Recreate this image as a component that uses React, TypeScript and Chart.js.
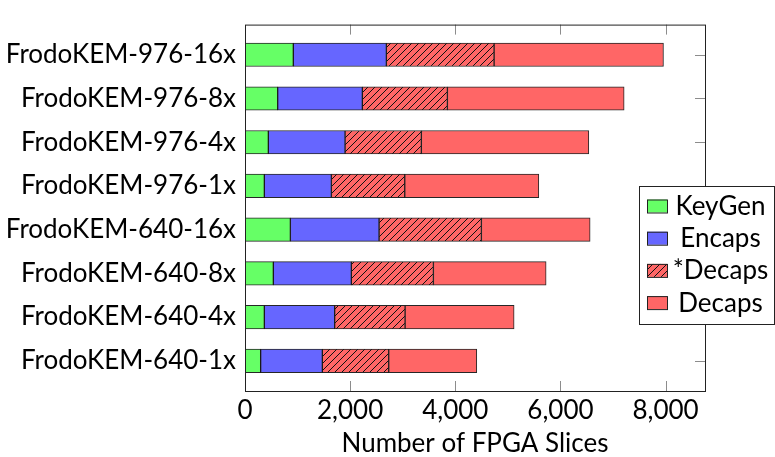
import React, { useEffect, useRef } from "react";
import Chart from "chart.js/auto";

const categories = [
  "FrodoKEM-976-16x",
  "FrodoKEM-976-8x",
  "FrodoKEM-976-4x",
  "FrodoKEM-976-1x",
  "FrodoKEM-640-16x",
  "FrodoKEM-640-8x",
  "FrodoKEM-640-4x",
  "FrodoKEM-640-1x",
];
const keyGen = [919, 622, 444, 368, 863, 539, 368, 298];
const encaps = [1770, 1610, 1459, 1275, 1687, 1484, 1338, 1173];
const decapsStar = [2049, 1618, 1452, 1396, 1947, 1561, 1339, 1263];
const decaps = [3222, 3362, 3185, 2550, 2068, 2144, 2074, 1675];
const xTicks = [0, 2000, 4000, 6000, 8000];
const seriesLabels = ["KeyGen", "Encaps", "*Decaps", "Decaps"];
const xTitle = "Number of FPGA Slices";

const FONT = "Lato";
const FS = 26;

function makeHatch(): CanvasPattern | string {
  const s = 7;
  const c = document.createElement("canvas");
  c.width = s;
  c.height = s;
  const g = c.getContext("2d");
  if (!g) return "#ff6666";
  g.fillStyle = "#ff6666";
  g.fillRect(0, 0, s, s);
  g.strokeStyle = "#111";
  g.lineWidth = 1;
  g.beginPath();
  g.moveTo(-1, s + 1);
  g.lineTo(s + 1, -1);
  g.moveTo(-1, 1);
  g.lineTo(1, -1);
  g.moveTo(s - 1, s + 1);
  g.lineTo(s + 1, s - 1);
  g.stroke();
  const p = g.createPattern(c, "repeat");
  return p || "#ff6666";
}

const framePlugin = {
  id: "frame",
  afterDatasetsDraw(chart: any) {
    const { ctx, chartArea } = chart;
    const { left, right, top, bottom } = chartArea;
    const x = chart.scales.x;
    const y = chart.scales.y;
    ctx.save();
    ctx.strokeStyle = "rgba(0,0,0,0.45)";
    ctx.lineWidth = 1;
    xTicks.forEach((v) => {
      if (v === 0) return;
      const px = Math.round(x.getPixelForValue(v)) + 0.5;
      ctx.beginPath();
      ctx.moveTo(px, bottom);
      ctx.lineTo(px, bottom - 10);
      ctx.moveTo(px, top);
      ctx.lineTo(px, top + 10);
      ctx.stroke();
    });
    categories.forEach((_, i) => {
      const py = Math.round(y.getPixelForValue(i)) + 0.5;
      ctx.beginPath();
      ctx.moveTo(right, py);
      ctx.lineTo(right - 10, py);
      ctx.stroke();
    });
    ctx.strokeStyle = "#222";
    ctx.strokeRect(left + 0.5, top + 0.5, right - left, bottom - top);
    ctx.restore();
  },
};

const legendPlugin = {
  id: "customLegend",
  afterDraw(chart: any) {
    const { ctx } = chart;
    const bx = 639.5;
    const by = 186.5;
    const bw = 135;
    const bh = 138;
    ctx.save();
    ctx.fillStyle = "#fff";
    ctx.fillRect(bx, by, bw, bh);
    ctx.strokeStyle = "#222";
    ctx.lineWidth = 1;
    ctx.strokeRect(bx, by, bw, bh);
    chart.data.datasets.forEach((ds: any, i: number) => {
      const cy = by + 19.5 + i * 32.2;
      ctx.fillStyle = ds.backgroundColor;
      ctx.fillRect(647, cy - 6.5, 20, 13);
      ctx.strokeStyle = "#222";
      ctx.strokeRect(647.5, cy - 6, 20, 13);
      ctx.fillStyle = "#000";
      ctx.font = `${FS}px ${FONT}`;
      ctx.textAlign = "center";
      ctx.textBaseline = "alphabetic";
      ctx.fillText(ds.label, 720.5, cy + 9);
    });
    ctx.restore();
  },
};

export default function App() {
  const ref = useRef<HTMLCanvasElement | null>(null);
  useEffect(() => {
    if (!ref.current) return;
    const hatch = makeHatch();
    const toPts = (arr: number[]) => arr.map((v, i) => ({ x: v, y: i }));
    const common = {
      borderColor: "rgba(0,0,0,0.85)",
      borderWidth: 1,
      borderSkipped: false,
      barThickness: 23.5,
    };
    const chart = new Chart(ref.current, {
      type: "bar",
      data: {
        datasets: [
          { label: seriesLabels[0], data: toPts(keyGen), backgroundColor: "#66ff66", ...common },
          { label: seriesLabels[1], data: toPts(encaps), backgroundColor: "#6666ff", ...common },
          { label: seriesLabels[2], data: toPts(decapsStar), backgroundColor: hatch, ...common },
          { label: seriesLabels[3], data: toPts(decaps), backgroundColor: "#ff6666", ...common },
        ] as any,
      },
      options: {
        indexAxis: "y",
        animation: false,
        responsive: true,
        maintainAspectRatio: false,
        layout: { padding: { top: 10, right: 70, left: 0, bottom: 0 }, autoPadding: false },
        plugins: { legend: { display: false }, tooltip: { enabled: false } },
        scales: {
          x: {
            type: "linear",
            stacked: true,
            min: 0,
            max: 8750,
            grid: { display: false, drawTicks: false },
            border: { display: false },
            afterBuildTicks: (s: any) => {
              s.ticks = xTicks.map((v) => ({ value: v }));
            },
            afterFit: (s: any) => {
              s.height = 66;
            },
            ticks: {
              padding: 4,
              color: "#000",
              autoSkip: false,
              maxRotation: 0,
              font: { family: FONT, size: FS },
              callback: (v: any) => Number(v).toLocaleString("en-US"),
            },
            title: {
              display: true,
              text: xTitle,
              color: "#000",
              font: { family: FONT, size: FS, lineHeight: 1 },
              padding: 0,
            },
          },
          y: {
            type: "linear",
            stacked: true,
            reverse: true,
            offset: false,
            min: -0.69,
            max: 7.69,
            grid: { display: false, drawTicks: false, offset: false },
            border: { display: false },
            afterBuildTicks: (s: any) => {
              s.ticks = categories.map((_, i) => ({ value: i }));
            },
            afterFit: (s: any) => {
              s.width = 245;
            },
            ticks: {
              padding: 9,
              color: "#000",
              autoSkip: false,
              font: { family: FONT, size: FS },
              callback: (v: any) => categories[v] ?? "",
            },
          },
        },
      } as any,
      plugins: [framePlugin, legendPlugin],
    });
    return () => chart.destroy();
  }, []);
  return (
    <div style={{ position: "fixed", left: 0, top: 0, width: 775, height: 457, background: "#fff" }}>
      <canvas ref={ref} />
    </div>
  );
}
